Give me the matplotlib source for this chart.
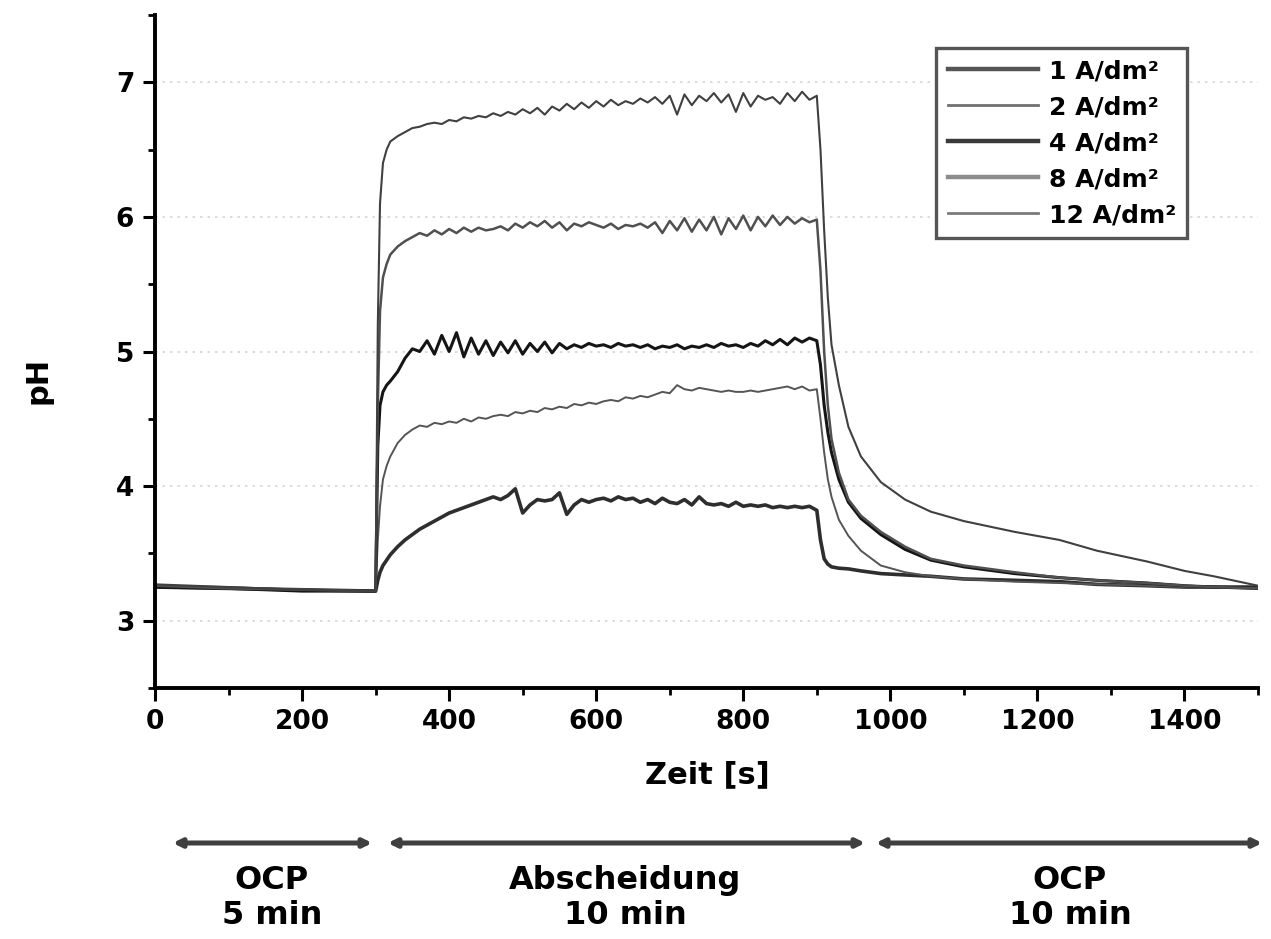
import matplotlib
matplotlib.use('Agg')
import matplotlib.pyplot as plt
import numpy as np

plt.rcParams['font.family'] = ['DejaVu Sans']
plt.rcParams['font.weight'] = 'bold'

# time grids (s): OCP before, deposition, OCP after
t_ocp1 = [0, 100, 200]
t_dep = [300, 303, 306, 310, 315, 320] + list(range(330, 901, 10))
t_rel = [905, 910, 915, 920, 930, 943, 960, 987, 1020, 1055, 1100, 1169,
         1230, 1281, 1349, 1400, 1440, 1500]

labels = ['1 A/dm²', '2 A/dm²', '4 A/dm²', '8 A/dm²', '12 A/dm²']

# pH during first OCP phase
ph_ocp1 = {
    '1 A/dm²': [3.25, 3.24, 3.23],
    '2 A/dm²': [3.26, 3.25, 3.23],
    '4 A/dm²': [3.25, 3.24, 3.22],
    '8 A/dm²': [3.26, 3.24, 3.23],
    '12 A/dm²': [3.27, 3.25, 3.23],
}

# pH during deposition (same order as t_dep)
ph_dep = {
    '1 A/dm²': [3.22, 3.30, 3.36, 3.41, 3.45, 3.49,
                3.55, 3.60, 3.64, 3.68, 3.71, 3.74, 3.77, 3.80, 3.82, 3.84,
                3.86, 3.88, 3.90, 3.92, 3.90, 3.93, 3.98, 3.80, 3.86, 3.90,
                3.89, 3.90, 3.95, 3.79, 3.86, 3.90, 3.88, 3.90, 3.91, 3.89,
                3.92, 3.90, 3.91, 3.88, 3.90, 3.87, 3.91, 3.88, 3.87, 3.90,
                3.86, 3.92, 3.87, 3.86, 3.87, 3.85, 3.88, 3.85, 3.86, 3.85,
                3.86, 3.84, 3.85, 3.84, 3.85, 3.84, 3.85, 3.82],
    '2 A/dm²': [3.22, 3.60, 3.85, 4.05, 4.15, 4.22,
                4.32, 4.38, 4.42, 4.45, 4.44, 4.47, 4.46, 4.48, 4.47, 4.50,
                4.48, 4.51, 4.50, 4.52, 4.53, 4.52, 4.55, 4.54, 4.56, 4.55,
                4.58, 4.57, 4.59, 4.58, 4.61, 4.60, 4.62, 4.61, 4.63, 4.64,
                4.63, 4.66, 4.65, 4.67, 4.66, 4.68, 4.70, 4.69, 4.75, 4.72,
                4.71, 4.73, 4.72, 4.71, 4.70, 4.71, 4.70, 4.70, 4.71, 4.70,
                4.71, 4.72, 4.73, 4.74, 4.72, 4.74, 4.71, 4.72],
    '4 A/dm²': [3.22, 4.30, 4.60, 4.70, 4.75, 4.78,
                4.85, 4.95, 5.02, 5.00, 5.08, 4.98, 5.12, 5.00, 5.14, 4.96,
                5.10, 4.98, 5.08, 4.97, 5.07, 4.99, 5.08, 4.98, 5.06, 5.00,
                5.07, 4.99, 5.06, 5.02, 5.05, 5.03, 5.06, 5.04, 5.05, 5.03,
                5.06, 5.04, 5.05, 5.03, 5.05, 5.02, 5.04, 5.03, 5.05, 5.02,
                5.04, 5.03, 5.05, 5.03, 5.06, 5.04, 5.05, 5.03, 5.06, 5.04,
                5.08, 5.05, 5.09, 5.05, 5.10, 5.07, 5.10, 5.08],
    '8 A/dm²': [3.22, 4.60, 5.30, 5.55, 5.65, 5.72,
                5.78, 5.82, 5.85, 5.88, 5.86, 5.90, 5.87, 5.91, 5.88, 5.92,
                5.89, 5.92, 5.90, 5.91, 5.93, 5.90, 5.95, 5.92, 5.96, 5.93,
                5.97, 5.92, 5.96, 5.90, 5.95, 5.93, 5.96, 5.94, 5.92, 5.95,
                5.91, 5.94, 5.93, 5.95, 5.92, 5.96, 5.88, 5.97, 5.90, 5.99,
                5.89, 5.98, 5.90, 6.00, 5.87, 5.99, 5.91, 6.01, 5.90, 6.00,
                5.93, 6.01, 5.94, 6.00, 5.95, 5.99, 5.96, 5.98],
    '12 A/dm²': [3.22, 5.20, 6.10, 6.40, 6.50, 6.56,
                 6.60, 6.63, 6.66, 6.67, 6.69, 6.70, 6.69, 6.72, 6.71, 6.74,
                 6.73, 6.75, 6.74, 6.77, 6.75, 6.78, 6.76, 6.80, 6.77, 6.81,
                 6.76, 6.82, 6.79, 6.84, 6.80, 6.85, 6.81, 6.86, 6.82, 6.87,
                 6.83, 6.86, 6.84, 6.88, 6.85, 6.89, 6.84, 6.90, 6.76, 6.91,
                 6.83, 6.90, 6.86, 6.92, 6.85, 6.91, 6.78, 6.92, 6.82, 6.90,
                 6.87, 6.89, 6.84, 6.92, 6.86, 6.93, 6.87, 6.90],
}

# pH relaxation after switching the current off (same order as t_rel)
ph_rel = {
    '1 A/dm²': [3.60, 3.46, 3.42, 3.40, 3.39, 3.385, 3.37, 3.35, 3.34, 3.33,
                3.31, 3.30, 3.29, 3.27, 3.26, 3.25, 3.25, 3.25],
    '2 A/dm²': [4.50, 4.25, 4.05, 3.92, 3.75, 3.63, 3.52, 3.41, 3.36, 3.33,
                3.31, 3.29, 3.28, 3.27, 3.26, 3.25, 3.25, 3.24],
    '4 A/dm²': [4.90, 4.60, 4.40, 4.25, 4.05, 3.88, 3.76, 3.64, 3.53, 3.45,
                3.40, 3.35, 3.32, 3.30, 3.28, 3.26, 3.25, 3.24],
    '8 A/dm²': [5.60, 5.00, 4.60, 4.35, 4.10, 3.90, 3.78, 3.66, 3.55, 3.46,
                3.41, 3.36, 3.32, 3.30, 3.28, 3.26, 3.25, 3.24],
    '12 A/dm²': [6.50, 5.90, 5.40, 5.05, 4.75, 4.44, 4.22, 4.03, 3.90, 3.81,
                 3.74, 3.66, 3.60, 3.52, 3.44, 3.37, 3.33, 3.26],
}

styles = {
    '1 A/dm²': dict(color='#2e2e2e', lw=2.6),
    '2 A/dm²': dict(color='#555555', lw=1.4),
    '4 A/dm²': dict(color='#151515', lw=2.2),
    '8 A/dm²': dict(color='#505050', lw=1.8),
    '12 A/dm²': dict(color='#404040', lw=1.5),
}
legend_colors = {'1 A/dm²': '#555555', '2 A/dm²': '#707070',
                 '4 A/dm²': '#3a3a3a', '8 A/dm²': '#8c8c8c',
                 '12 A/dm²': '#7a7a7a'}

fig = plt.figure(figsize=(12.71, 9.39), dpi=100)
ax = fig.add_axes([155 / 1271, 1 - 688 / 939, 1103 / 1271, 673 / 939])

t_all = np.array(t_ocp1 + t_dep + t_rel)
for lab in labels:
    y = np.array(ph_ocp1[lab] + ph_dep[lab] + ph_rel[lab])
    ax.plot(t_all, y, label=lab, **styles[lab])

ax.set_xlim(0, 1500)
ax.set_ylim(2.5, 7.5)
ax.set_xticks(range(0, 1401, 200))
ax.set_xticks(range(100, 1501, 200), minor=True)
ax.set_yticks([3, 4, 5, 6, 7])
ax.set_yticks([2.5, 3.5, 4.5, 5.5, 6.5, 7.5], minor=True)
ax.yaxis.grid(True, which='major', ls=(0, (1.5, 3)), color='#d5d5d5', lw=1.2)
ax.set_axisbelow(True)

for s in ['top', 'right']:
    ax.spines[s].set_visible(False)
for s in ['left', 'bottom']:
    ax.spines[s].set_linewidth(2.8)
ax.tick_params(which='major', direction='out', length=9, width=2.2, labelsize=19, pad=6)
ax.tick_params(which='minor', direction='out', length=5, width=2)

ax.set_xlabel('Zeit [s]', fontsize=22, fontweight='bold')
ax.xaxis.set_label_coords(0.501, -0.108)
fig.text(38 / 1271, 1 - 380 / 939, 'pH', rotation=90, fontsize=22,
         ha='center', va='center')

leg = ax.legend(loc='upper right', bbox_to_anchor=(0.936, 0.951),
                borderaxespad=0, fontsize=18, handlelength=3.6,
                labelspacing=0.48, fancybox=False, framealpha=1,
                borderpad=0.45, handletextpad=0.45)
leg.get_frame().set_edgecolor('#555555')
leg.get_frame().set_linewidth(2.4)
for h, lab in zip(leg.get_lines(), labels):
    h.set_color(legend_colors[lab])
    h.set_linewidth(3.2 if lab in ('1 A/dm²', '4 A/dm²', '8 A/dm²') else 2.0)

# phase arrows below the axis
trans = fig.transFigure
arrow_y = 1 - 843 / 939
phases = [(170, 375, 'OCP\n5 min', 272),
          (385, 868, 'Abscheidung\n10 min', 625),
          (873, 1265, 'OCP\n10 min', 1070)]
for x0, x1, txt, xc in phases:
    fig.patches.append(matplotlib.patches.FancyArrowPatch(
        (x0 / 1271, arrow_y), (x1 / 1271, arrow_y), transform=trans,
        arrowstyle='<|-|>', mutation_scale=12, lw=3.6, color='#3f3f3f'))
    fig.text(xc / 1271, 1 - 898 / 939, txt, ha='center', va='center',
             fontsize=23, linespacing=1.15)

fig.savefig('out.png', dpi=100)
